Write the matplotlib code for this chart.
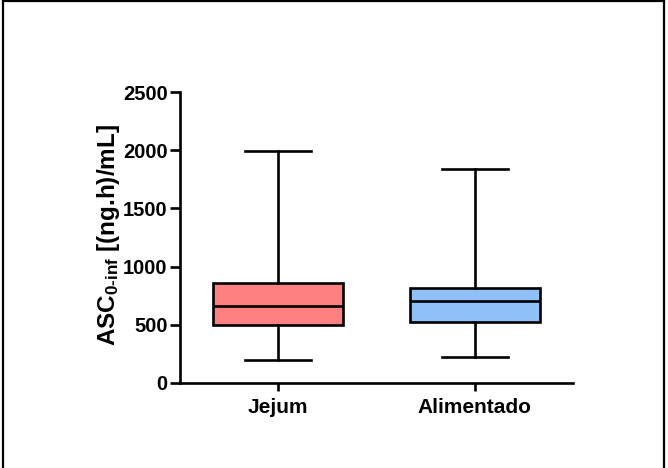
import matplotlib
matplotlib.use("Agg")
import matplotlib.pyplot as plt
from matplotlib.lines import Line2D

plt.rcParams['font.family'] = ['Liberation Sans', 'DejaVu Sans']
plt.rcParams['font.weight'] = 'bold'
plt.rcParams['mathtext.fontset'] = 'custom'
plt.rcParams['mathtext.rm'] = 'Liberation Sans:bold'
plt.rcParams['mathtext.it'] = 'Liberation Sans:bold'
plt.rcParams['mathtext.bf'] = 'Liberation Sans:bold'

# ASC por grupo (min, Q1, mediana, Q3, max)
grupos = ['Jejum', 'Alimentado']
minimo = [197, 226]
q1 = [498, 527]
mediana = [664, 702]
q3 = [862, 813]
maximo = [1993, 1838]
cores = ['#FF8080', '#90C0F8']

stats = []
for i in range(len(grupos)):
    stats.append({'label': grupos[i], 'whislo': minimo[i], 'q1': q1[i],
                  'med': mediana[i], 'q3': q3[i], 'whishi': maximo[i]})

fig = plt.figure(figsize=(6.68, 4.68), dpi=100)
ax = fig.add_axes([180/668, 1-383/468, (573-180)/668, (383-92)/468])

lw = 1.9
bp = ax.bxp(stats, positions=[1, 2], widths=0.663, patch_artist=True,
            showfliers=False,
            boxprops=dict(linewidth=lw, edgecolor='black'),
            medianprops=dict(linewidth=lw, color='black'),
            whiskerprops=dict(linewidth=lw, color='black'),
            capprops=dict(linewidth=lw, color='black'),
            capwidths=0.335)
for patch, c in zip(bp['boxes'], cores):
    patch.set_facecolor(c)

ax.set_xlim(0.5, 2.5)
ax.set_ylim(0, 2500)
ax.set_yticks([0, 500, 1000, 1500, 2000, 2500])
ax.set_xticks([1, 2])
ax.set_xticklabels(grupos, fontsize=15, fontweight='bold')
ax.tick_params(axis='y', labelsize=14.5, width=lw, length=7, pad=2)
ax.tick_params(axis='x', width=lw, length=6, pad=5)
for lab in ax.get_yticklabels():
    lab.set_fontweight('bold')

ax.spines['top'].set_visible(False)
ax.spines['right'].set_visible(False)
ax.spines['left'].set_linewidth(lw)
ax.spines['bottom'].set_linewidth(lw)

ax.set_ylabel(r'ASC$_{\text{0-inf}}$ [(ng.h)/mL]', fontsize=17.5, fontweight='bold')
ax.yaxis.set_label_coords((122 - 180) / 393, (383 - 235) / 291)

# moldura da figura
borda = dict(color='black', linewidth=1.6, transform=fig.transFigure)
fig.add_artist(Line2D([3/668, 664/668], [467.5/468, 467.5/468], **borda))
fig.add_artist(Line2D([3/668, 3/668], [0, 1], **borda))
fig.add_artist(Line2D([664/668, 664/668], [0, 1], **borda))

fig.savefig('out.png', dpi=100)
